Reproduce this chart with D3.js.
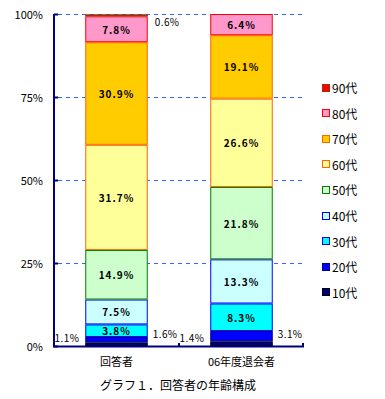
<!DOCTYPE html>
<html>
<head>
<meta charset="utf-8">
<script src="https://cdn.jsdelivr.net/npm/d3@7"></script>
<style>
  body { margin: 0; background: #fff; }
  text { font-family: "Noto Sans CJK JP", sans-serif; }
</style>
</head>
<body>
<div id="chart"></div>
<script>
// data
let categories = ["回答者", "06年度退会者"];
let ages = ["10代", "20代", "30代", "40代", "50代", "60代", "70代", "80代", "90代"];
let respondents = [1.1, 1.6, 3.8, 7.5, 14.9, 31.7, 30.9, 7.8, 0.6];
let withdrawn = [1.4, 3.1, 8.3, 13.3, 21.8, 26.6, 19.1, 6.4, 0.0];
let yTicks = [0, 25, 50, 75, 100];
let title = "グラフ１．回答者の年齢構成";

let fills = ["#000080", "#0000ff", "#00ffff", "#ccffff", "#ccffcc", "#ffff99", "#ffcc00", "#ff99cc", "#ff0000"];
let strokes = ["#000000", "#000080", "#0000ff", "#0000ff", "#008000", "#ff6600", "#ff6600", "#ff0000", "#993300"];

let width = 385, height = 399;
let margin = {top: 14, right: 81, bottom: 53, left: 54};

let svg = d3.select("#chart").append("svg")
    .attr("width", width)
    .attr("height", height);

let x = d3.scaleBand()
    .domain(categories)
    .range([margin.left, width - margin.right])
    .paddingInner(0.5)
    .paddingOuter(0.25);
let y = d3.scaleLinear()
    .domain([0, 100])
    .range([height - margin.bottom, margin.top]);

// grid lines
svg.append("g")
    .selectAll("line")
    .data(yTicks.filter(d => d > 0))
    .join("line")
    .attr("x1", margin.left + 4)
    .attr("x2", width - margin.right)
    .attr("y1", d => y(d) + 0.5)
    .attr("y2", d => y(d) + 0.5)
    .attr("stroke", "#3366ff")
    .attr("stroke-dasharray", "4,4");

// stacked bars
let series = [respondents, withdrawn];
let stacked = [];
series.forEach((vals, ci) => {
    let acc = 0;
    vals.forEach((v, ai) => {
        stacked.push({cat: categories[ci], age: ai, y0: acc, y1: acc + v, v: v});
        acc += v;
    });
});

svg.append("g")
    .selectAll("rect")
    .data(stacked.filter(d => d.v > 0))
    .join("rect")
    .attr("x", d => x(d.cat) + 0.5)
    .attr("y", d => y(d.y1) + 0.5)
    .attr("width", x.bandwidth() - 1)
    .attr("height", d => Math.max(0, y(d.y0) - y(d.y1) - 1))
    .attr("fill", d => fills[d.age])
    .attr("stroke", d => strokes[d.age])
    .attr("stroke-width", 1);

// value labels
let fmt = d => d.toFixed(1) + "%";
let labels = svg.append("g")
    .attr("font-size", 10)
    .attr("dominant-baseline", "central");

stacked.filter(d => d.v > 0).forEach(d => {
    let t = labels.append("text").text(fmt(d.v));
    if (d.age == 0) {
        t.attr("x", x(d.cat) - 6).attr("y", y(0) - 9)
         .attr("text-anchor", "end").attr("letter-spacing", 0.4);
    } else if (d.age == 1) {
        t.attr("x", x(d.cat) + x.bandwidth() + 5).attr("y", y(0) - 13)
         .attr("text-anchor", "start").attr("letter-spacing", 0.4);
    } else if (d.age == 8) {
        t.attr("x", x(d.cat) + x.bandwidth() + 7).attr("y", y(d.y1) + 7)
         .attr("text-anchor", "start").attr("letter-spacing", 0.4);
    } else {
        t.attr("x", x(d.cat) + x.bandwidth() / 2).attr("y", y((d.y0 + d.y1) / 2))
         .attr("text-anchor", "middle")
         .attr("letter-spacing", 1)
         .attr("font-weight", "bold");
    }
});

// axes
let axisColor = "#000080";
let yAxis = svg.append("g").attr("transform", `translate(${margin.left}, 0)`);
yAxis.append("line")
    .attr("x1", 0).attr("x2", 0)
    .attr("y1", y(100)).attr("y2", y(0) + 1)
    .attr("stroke", axisColor).attr("stroke-width", 2);
yAxis.selectAll(".tk")
    .data(yTicks)
    .join("line")
    .attr("x1", 0).attr("x2", 4)
    .attr("y1", d => y(d) + 0.5).attr("y2", d => y(d) + 0.5)
    .attr("stroke", axisColor).attr("stroke-width", 2);
yAxis.selectAll("text")
    .data(yTicks)
    .join("text")
    .attr("x", -11)
    .attr("y", d => y(d))
    .attr("dominant-baseline", "central")
    .attr("text-anchor", "end")
    .attr("font-size", 11)
    .text(d => d + "%");

let xAxis = svg.append("g");
xAxis.append("line")
    .attr("x1", margin.left - 1).attr("x2", width - margin.right)
    .attr("y1", y(0) + 0.5).attr("y2", y(0) + 0.5)
    .attr("stroke", axisColor).attr("stroke-width", 2);
let step = x.step();
xAxis.selectAll(".tk")
    .data([x(categories[0]) + x.bandwidth() / 2 + step / 2, width - margin.right - 1])
    .join("line")
    .attr("x1", d => d).attr("x2", d => d)
    .attr("y1", y(0) - 3).attr("y2", y(0))
    .attr("stroke", axisColor).attr("stroke-width", 2);
xAxis.selectAll("text")
    .data(categories)
    .join("text")
    .attr("x", d => x(d) + x.bandwidth() / 2)
    .attr("y", y(0) + 15)
    .attr("dominant-baseline", "central")
    .attr("text-anchor", "middle")
    .attr("font-size", 11)
    .text(d => d);

// legend
let legend = svg.append("g");
let legendItems = ages.map((a, i) => ({age: a, i: i})).reverse();
legendItems.forEach((d, k) => {
    let cy = 87.5 + k * 25.6;
    legend.append("rect")
        .attr("x", 322.5).attr("y", Math.round(cy - 4) + 0.5)
        .attr("width", 7).attr("height", 7)
        .attr("fill", fills[d.i])
        .attr("stroke", strokes[d.i]);
    legend.append("text")
        .attr("x", 332).attr("y", cy)
        .attr("dominant-baseline", "central")
        .attr("font-size", 12)
        .text(d.age);
});

// title
svg.append("text")
    .attr("x", 178).attr("y", 384)
    .attr("text-anchor", "middle")
    .attr("dominant-baseline", "central")
    .attr("font-size", 12)
    .text(title);
</script>
</body>
</html>
